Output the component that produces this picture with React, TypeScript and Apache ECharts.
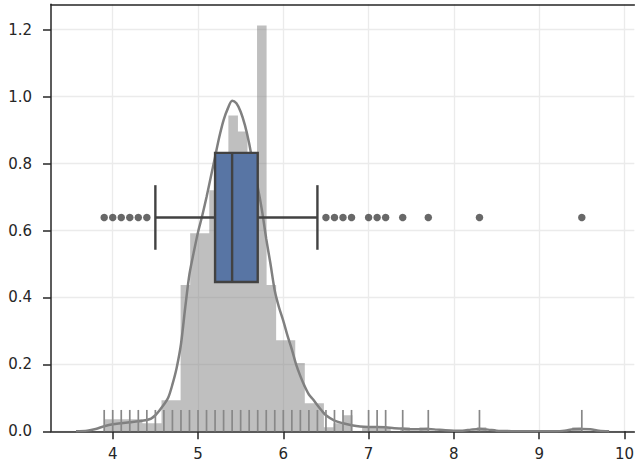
import React, { useEffect, useRef } from "react";
import * as echarts from "echarts";

// ---- data ----
const xTicks = [4, 5, 6, 7, 8, 9, 10];
const yTicks = [0, 0.2, 0.4, 0.6, 0.8, 1.0, 1.2];

const binStart = 3.9;
const binWidth = 0.112;
const binDensity = [
  0.036, 0.036, 0.036, 0.036, 0.024, 0.024, 0.093, 0.093, 0.437, 0.592,
  0.592, 0.72, 0.8, 0.944, 0.896, 0.78, 1.213, 0.437, 0.272, 0.272,
  0.204, 0.084, 0.084, 0.012, 0.024, 0.048, 0, 0.012, 0.012, 0.012,
  0, 0.012, 0, 0.012, 0, 0, 0, 0, 0, 0.012,
  0, 0, 0, 0, 0, 0, 0, 0, 0, 0.012,
];

const kdeX = [
  3.57, 3.7, 3.8, 3.9, 4.0, 4.1, 4.2, 4.3, 4.4, 4.45, 4.5, 4.55, 4.6, 4.65,
  4.7, 4.75, 4.8, 4.85, 4.9, 4.95, 5.0, 5.05, 5.1, 5.15, 5.2, 5.25, 5.3,
  5.35, 5.4, 5.45, 5.5, 5.55, 5.6, 5.65, 5.7, 5.75, 5.8, 5.85, 5.9, 5.95,
  6.0, 6.05, 6.1, 6.15, 6.2, 6.25, 6.3, 6.35, 6.4, 6.45, 6.5, 6.6, 6.7,
  6.8, 6.9, 7.0, 7.1, 7.2, 7.3, 7.4, 7.5, 7.6, 7.7, 7.8, 7.9, 8.0, 8.1,
  8.2, 8.3, 8.4, 8.5, 8.6, 8.7, 9.2, 9.3, 9.4, 9.5, 9.6, 9.7, 9.82,
];
const kdeY = [
  0.0, 0.002, 0.007, 0.015, 0.021, 0.024, 0.027, 0.03, 0.034, 0.038, 0.048,
  0.063, 0.08, 0.1, 0.14, 0.19, 0.26, 0.37, 0.47, 0.535, 0.595, 0.645, 0.7,
  0.76, 0.82, 0.88, 0.93, 0.965, 0.988, 0.98, 0.955, 0.915, 0.86, 0.79,
  0.73, 0.66, 0.575, 0.5, 0.42, 0.37, 0.33, 0.285, 0.245, 0.2, 0.165, 0.135,
  0.11, 0.095, 0.078, 0.062, 0.048, 0.032, 0.024, 0.018, 0.014, 0.013,
  0.013, 0.012, 0.009, 0.008, 0.006, 0.006, 0.007, 0.005, 0.003, 0.002,
  0.002, 0.005, 0.007, 0.005, 0.002, 0.001, 0.0, 0.0, 0.002, 0.006, 0.007,
  0.006, 0.002, 0.0,
];

const rugValues = [
  3.9, 4.0, 4.1, 4.2, 4.3, 4.4, 4.5, 4.6, 4.7, 4.8, 4.9, 5.0, 5.1, 5.2, 5.3,
  5.4, 5.5, 5.6, 5.7, 5.8, 5.9, 6.0, 6.1, 6.2, 6.3, 6.4, 6.5, 6.6, 6.7, 6.8,
  7.0, 7.1, 7.2, 7.4, 7.7, 8.3, 9.5,
];

// box plot stats: [lower whisker, Q1, median, Q3, upper whisker]
const boxStats = [4.5, 5.2, 5.4, 5.7, 6.4];
const boxCenter = 0.639;
const boxHalf = 0.193;
const outliers = [
  3.9, 4.0, 4.1, 4.2, 4.3, 4.4, 6.5, 6.6, 6.7, 6.8, 7.0, 7.1, 7.2, 7.4, 7.7,
  8.3, 9.5,
];

const xMin = 3.2763;
const xMax = 10.116;
const yMin = 0;
const yMax = 1.276;

const textColor = "#262626";
const spineColor = "#262626";
const gridColor = "#ebebeb";
const lineGray = "#424242";

export default function App() {
  const ref = useRef<HTMLDivElement>(null);

  useEffect(() => {
    if (!ref.current) return;
    const chart = echarts.init(ref.current, undefined, { renderer: "svg" });

    const labelStyle = {
      color: textColor,
      fontSize: 15,
      fontFamily: "DejaVu Sans",
    };

    const option: any = {
      animation: false,
      backgroundColor: "#ffffff",
      grid: {
        left: 51,
        top: 4.3,
        right: 0,
        bottom: 35.7,
        show: false,
      },
      xAxis: [
        {
          type: "value",
          min: xMin,
          max: xMax,
          axisLine: { show: true, lineStyle: { color: spineColor, width: 1.5 } },
          axisTick: {
            show: true,
            customValues: xTicks,
            length: 8,
            lineStyle: { color: spineColor, width: 1.5 },
          },
          axisLabel: {
            ...labelStyle,
            customValues: xTicks,
            margin: 15,
            formatter: (v: number) => String(v),
          },
          splitLine: { show: true, lineStyle: { color: gridColor, width: 1.3 } },
        },
        {
          type: "value",
          position: "top",
          min: xMin,
          max: xMax,
          axisLine: { show: true, onZero: false, lineStyle: { color: spineColor, width: 1.5 } },
          axisTick: { show: false },
          axisLabel: { show: false },
          splitLine: { show: false },
        },
      ],
      yAxis: {
        type: "value",
        min: yMin,
        max: yMax,
        axisLine: { show: true, lineStyle: { color: spineColor, width: 1.5 } },
        axisTick: {
          show: true,
          customValues: yTicks,
          length: 8,
          lineStyle: { color: spineColor, width: 1.5 },
        },
        axisLabel: {
          ...labelStyle,
          customValues: yTicks,
          margin: 19,
          formatter: (v: number) => v.toFixed(1),
        },
        splitLine: { show: true, lineStyle: { color: gridColor, width: 1.3 } },
      },
      series: [
        {
          type: "custom",
          name: "hist",
          silent: true,
          z: 2,
          data: [[binStart, 0]],
          renderItem: (params: any, api: any) => {
            const pts: number[][] = [];
            pts.push(api.coord([binStart, 0]));
            binDensity.forEach((h, i) => {
              const l = binStart + i * binWidth;
              const r = l + binWidth;
              pts.push(api.coord([l, h]));
              pts.push(api.coord([r, h]));
            });
            pts.push(api.coord([binStart + binDensity.length * binWidth, 0]));
            return {
              type: "polygon",
              shape: { points: pts },
              style: { fill: "rgba(128,128,128,0.5)", stroke: "none" },
            };
          },
        },
        {
          type: "line",
          name: "kde",
          z: 3,
          data: kdeX.map((x, i) => [x, kdeY[i]]),
          showSymbol: false,
          smooth: 0.3,
          lineStyle: { color: "#808080", width: 2.5 },
          silent: true,
        },
        {
          type: "custom",
          name: "rug",
          z: 4,
          silent: true,
          data: rugValues.map((v) => [v, 0]),
          renderItem: (params: any, api: any) => {
            const p = api.coord([api.value(0), 0]);
            const h = params.coordSys.height * 0.05;
            return {
              type: "line",
              shape: { x1: p[0], y1: p[1], x2: p[0], y2: p[1] - h },
              style: { stroke: "#888888", lineWidth: 1.7 },
            };
          },
        },
        {
          type: "custom",
          name: "box",
          z: 5,
          silent: true,
          data: [boxStats],
          renderItem: (params: any, api: any) => {
            const lo = api.value(0);
            const q1 = api.value(1);
            const med = api.value(2);
            const q3 = api.value(3);
            const hi = api.value(4);
            const a = api.coord([q1, boxCenter + boxHalf]);
            const b = api.coord([q3, boxCenter - boxHalf]);
            const c = api.coord([lo, boxCenter]);
            const d = api.coord([hi, boxCenter]);
            const capTop = api.coord([lo, boxCenter + boxHalf / 2])[1];
            const capBot = api.coord([lo, boxCenter - boxHalf / 2])[1];
            const m = api.coord([med, boxCenter])[0];
            const st = { stroke: lineGray, lineWidth: 2.4 };
            return {
              type: "group",
              children: [
                { type: "line", shape: { x1: c[0], y1: c[1], x2: a[0], y2: c[1] }, style: st },
                { type: "line", shape: { x1: b[0], y1: d[1], x2: d[0], y2: d[1] }, style: st },
                { type: "line", shape: { x1: c[0], y1: capTop, x2: c[0], y2: capBot }, style: st },
                { type: "line", shape: { x1: d[0], y1: capTop, x2: d[0], y2: capBot }, style: st },
                {
                  type: "rect",
                  shape: { x: a[0], y: a[1], width: b[0] - a[0], height: b[1] - a[1] },
                  style: { fill: "#5875a4", stroke: lineGray, lineWidth: 2.4 },
                },
                { type: "line", shape: { x1: m, y1: a[1], x2: m, y2: b[1] }, style: st },
              ],
            };
          },
        },
        {
          type: "scatter",
          name: "outliers",
          z: 6,
          silent: true,
          symbol: "circle",
          symbolSize: 7.5,
          itemStyle: { color: lineGray },
          data: outliers.map((v) => [v, boxCenter]),
        },
      ],
    };

    chart.setOption(option);
    return () => chart.dispose();
  }, []);

  return (
    <div
      ref={ref}
      style={{ position: "absolute", left: 0, top: 0, width: 637, height: 467 }}
    />
  );
}
